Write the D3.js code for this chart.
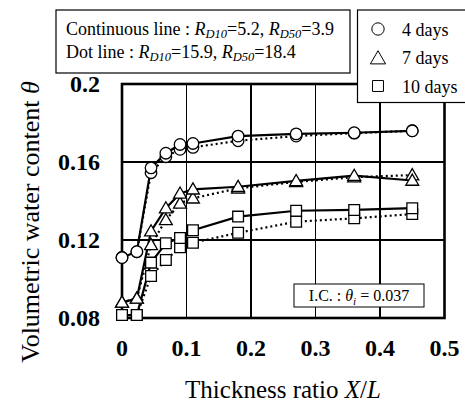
<!DOCTYPE html>
<html lang="en">
<head>
<meta charset="UTF-8" />
<title>Volumetric water content vs thickness ratio</title>
<script src="https://d3js.org/d3.v7.min.js"></script>
<style>
  body { margin: 0; background: #fff; }
  svg text { font-family: "Liberation Serif", "Times New Roman", serif; fill: #000; }
</style>
</head>
<body>
<svg id="chart" width="465" height="403"></svg>
<script>
  // thickness ratio X/L of each sampling point
  const xRatio = [0, 0.023, 0.045, 0.068, 0.09, 0.11, 0.18, 0.27, 0.36, 0.45];

  // volumetric water content, continuous (solid) and dotted lines
  const day4Solid   = [0.111, 0.114, 0.157, 0.1645, 0.169, 0.1695, 0.1733, 0.1744, 0.175, 0.176];
  const day4Dot     = [0.111, 0.114, 0.1545, 0.1627, 0.1665, 0.1675, 0.1709, 0.1733, 0.1748, 0.176];
  const day7Solid   = [0.088, 0.090, 0.1245, 0.1363, 0.1439, 0.146, 0.1473, 0.1503, 0.153, 0.1505];
  const day7Dot     = [0.088, 0.090, 0.1175, 0.1303, 0.1388, 0.1414, 0.1465, 0.1498, 0.1522, 0.1533];
  const day10Solid  = [0.0815, 0.0815, 0.1084, 0.1183, 0.121, 0.125, 0.132, 0.135, 0.1354, 0.1363];
  const day10Dot    = [0.0815, 0.0815, 0.1015, 0.1097, 0.1163, 0.1186, 0.1237, 0.1294, 0.1311, 0.1333];

  const xTicks = [0, 0.1, 0.2, 0.3, 0.4, 0.5];
  const yTicks = [0.08, 0.12, 0.16, 0.2];
  const legendLabels = ["4 days", "7 days", "10 days"];
  const legendShapes = ["circle", "triangle", "square"];

  const svg = d3.select("#chart");
  svg.append("rect").attr("width", 465).attr("height", 403).attr("fill", "#fff");

  const plot = { left: 122, right: 444.5, top: 84, bottom: 318 };

  const x = d3.scaleLinear().domain([0, 0.5]).range([plot.left, plot.right]);
  const y = d3.scaleLinear().domain([0.08, 0.2]).range([plot.bottom, plot.top]);

  // grid lines
  const grid = svg.append("g").attr("shape-rendering", "crispEdges");
  grid.selectAll("line.vx")
    .data(xTicks.slice(1, -1))
    .join("line")
    .attr("x1", d => x(d)).attr("x2", d => x(d))
    .attr("y1", plot.top).attr("y2", plot.bottom)
    .attr("stroke", "#000").attr("stroke-width", 1.3);
  grid.selectAll("line.hy")
    .data(yTicks.slice(1, -1))
    .join("line")
    .attr("x1", plot.left).attr("x2", plot.right)
    .attr("y1", d => y(d)).attr("y2", d => y(d))
    .attr("stroke", "#000").attr("stroke-width", 1.3);

  // I.C. box
  const ic = svg.append("g");
  ic.append("rect")
    .attr("x", 294).attr("y", 284).attr("width", 130).attr("height", 23)
    .attr("fill", "#fff").attr("stroke", "#000").attr("stroke-width", 1);
  const icText = ic.append("text").attr("x", 359).attr("y", 301)
    .attr("text-anchor", "middle").style("font-size", "16px");
  icText.append("tspan").text("I.C. : ");
  icText.append("tspan").attr("font-style", "italic").text("θ");
  icText.append("tspan").attr("font-style", "italic").attr("dy", 4).style("font-size", "11px").text("i");
  icText.append("tspan").attr("dy", -4).text(" = 0.037");

  // plot frame
  svg.append("rect")
    .attr("x", plot.left).attr("y", plot.top)
    .attr("width", plot.right - plot.left).attr("height", plot.bottom - plot.top)
    .attr("fill", "none").attr("stroke", "#000").attr("stroke-width", 2.6);

  // axes labels
  svg.append("g").selectAll("text")
    .data(xTicks)
    .join("text")
    .attr("x", d => x(d)).attr("y", 356)
    .attr("text-anchor", "middle")
    .attr("font-weight", "bold").style("font-size", "24px")
    .text(d => d === 0 ? "0" : d3.format(".1f")(d));

  svg.append("g").selectAll("text")
    .data(yTicks)
    .join("text")
    .attr("x", 100).attr("y", d => y(d) + 8)
    .attr("text-anchor", "end")
    .attr("font-weight", "bold").style("font-size", "24px")
    .text(d => d === 0.2 ? "0.2" : d3.format(".2f")(d));

  const xTitle = svg.append("text").attr("x", 283).attr("y", 398)
    .attr("text-anchor", "middle").style("font-size", "25px");
  xTitle.append("tspan").text("Thickness ratio ");
  xTitle.append("tspan").attr("font-style", "italic").text("X");
  xTitle.append("tspan").text("/");
  xTitle.append("tspan").attr("font-style", "italic").text("L");

  const yTitle = svg.append("text")
    .attr("transform", "translate(39,222) rotate(-90)")
    .attr("text-anchor", "middle").style("font-size", "26px");
  yTitle.append("tspan").text("Volumetric water content ");
  yTitle.append("tspan").attr("font-style", "italic").text("θ");

  // series
  const symbolType = { circle: d3.symbolCircle, triangle: d3.symbolTriangle, square: d3.symbolSquare };
  const symbolSize = { circle: 105, triangle: 72, square: 115 };

  const series = [
    { shape: "circle", dotted: true, values: day4Dot },
    { shape: "triangle", dotted: true, values: day7Dot },
    { shape: "square", dotted: true, values: day10Dot },
    { shape: "circle", dotted: false, values: day4Solid },
    { shape: "triangle", dotted: false, values: day7Solid },
    { shape: "square", dotted: false, values: day10Solid }
  ];

  const line = d3.line().x(d => x(d[0])).y(d => y(d[1]));

  series.forEach(s => {
    const pts = xRatio.map((xv, i) => [xv, s.values[i]]);
    svg.append("path")
      .attr("d", line(pts))
      .attr("fill", "none").attr("stroke", "#000")
      .attr("stroke-width", 2.2)
      .attr("stroke-dasharray", s.dotted ? "2,3" : null);
  });

  series.forEach(s => {
    const pts = xRatio.map((xv, i) => [xv, s.values[i]]);
    svg.append("g").selectAll("path")
      .data(pts)
      .join("path")
      .attr("transform", d => `translate(${x(d[0])},${y(d[1]) + (s.shape === "triangle" ? 1 : 0)})`)
      .attr("d", d3.symbol(symbolType[s.shape], symbolSize[s.shape]))
      .attr("fill", "#fff").attr("stroke", "#000").attr("stroke-width", 1.3);
  });

  // annotation box
  const note = svg.append("g");
  note.append("rect")
    .attr("x", 56).attr("y", 10).attr("width", 294).attr("height", 63)
    .attr("fill", "#fff").attr("stroke", "#000").attr("stroke-width", 1.2);
  const noteLines = [
    { prefix: "Continuous line : ", r10: "5.2", r50: "3.9", y: 35 },
    { prefix: "Dot line : ", r10: "15.9", r50: "18.4", y: 58 }
  ];
  noteLines.forEach(l => {
    const t = note.append("text").attr("x", 66).attr("y", l.y).style("font-size", "18px");
    t.append("tspan").text(l.prefix);
    t.append("tspan").attr("font-style", "italic").text("R");
    t.append("tspan").attr("font-style", "italic").attr("dy", 3).style("font-size", "12.5px").text("D10");
    t.append("tspan").attr("dy", -3).text("=" + l.r10 + ", ");
    t.append("tspan").attr("font-style", "italic").text("R");
    t.append("tspan").attr("font-style", "italic").attr("dy", 3).style("font-size", "12.5px").text("D50");
    t.append("tspan").attr("dy", -3).text("=" + l.r50);
  });

  // legend
  const legend = svg.append("g");
  legend.append("rect")
    .attr("x", 357.5).attr("y", 10).attr("width", 120).attr("height", 92.5)
    .attr("fill", "#fff").attr("stroke", "#000").attr("stroke-width", 1.2);
  const legendRows = legend.selectAll("g")
    .data(legendLabels)
    .join("g")
    .attr("transform", (d, i) => `translate(378,${29 + i * 28.5})`);
  legendRows.append("path")
    .attr("d", (d, i) => d3.symbol(symbolType[legendShapes[i]], legendShapes[i] === "triangle" ? 100 : 120)())
    .attr("transform", (d, i) => legendShapes[i] === "triangle" ? "translate(0,2)" : null)
    .attr("fill", "#fff").attr("stroke", "#000").attr("stroke-width", 1);
  legendRows.append("text")
    .attr("x", 24).attr("y", 6.5)
    .style("font-size", "18px")
    .text(d => d);
</script>
</body>
</html>
